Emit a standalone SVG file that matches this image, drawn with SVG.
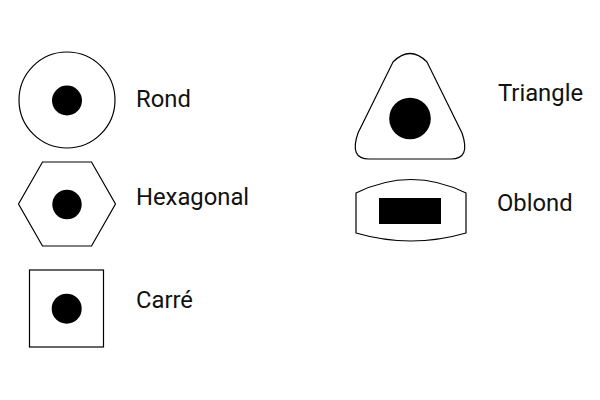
<svg xmlns="http://www.w3.org/2000/svg" width="600" height="400" viewBox="0 0 600 400">
<style>
.sh{fill:#fff;stroke:#000;stroke-width:1.2}
.dot{fill:#000}
.lbl{font-family:Roboto,"Liberation Sans",sans-serif;font-size:23.8px;fill:#111}
</style>
<rect width="600" height="400" fill="#fff"/>
<g id="rond">
<circle class="sh" cx="67" cy="100" r="48"/>
<circle class="dot" cx="67" cy="100.5" r="15"/>
<text class="lbl" x="136" y="107">Rond</text>
</g>
<g id="hexagonal">
<polygon class="sh" points="18.5,204 42.5,162 91.5,162 115.5,204 91.5,246 42.5,246"/>
<circle class="dot" cx="67" cy="204.5" r="14.7"/>
<text class="lbl" x="136" y="205">Hexagonal</text>
</g>
<g id="carre">
<rect class="sh" x="29.5" y="270" width="74" height="77"/>
<circle class="dot" cx="66.7" cy="308.7" r="15"/>
<text class="lbl" x="136" y="308">Carré</text>
</g>
<g id="triangle">
<path class="sh" d="M393 62 Q410 45 427 62 L462 133 Q471 159 451 159 L369 159 Q349 159 358 133 Z"/>
<circle class="dot" cx="410" cy="118.5" r="20.8"/>
<text class="lbl" x="498" y="101">Triangle</text>
</g>
<g id="oblond">
<path class="sh" d="M356 193 Q411 166 466 193 L466 233 Q411 249 356 233 Z"/>
<rect class="dot" x="379" y="198" width="62" height="26"/>
<text class="lbl" x="497" y="211">Oblond</text>
</g>
<g id="connectors"/>
</svg>
